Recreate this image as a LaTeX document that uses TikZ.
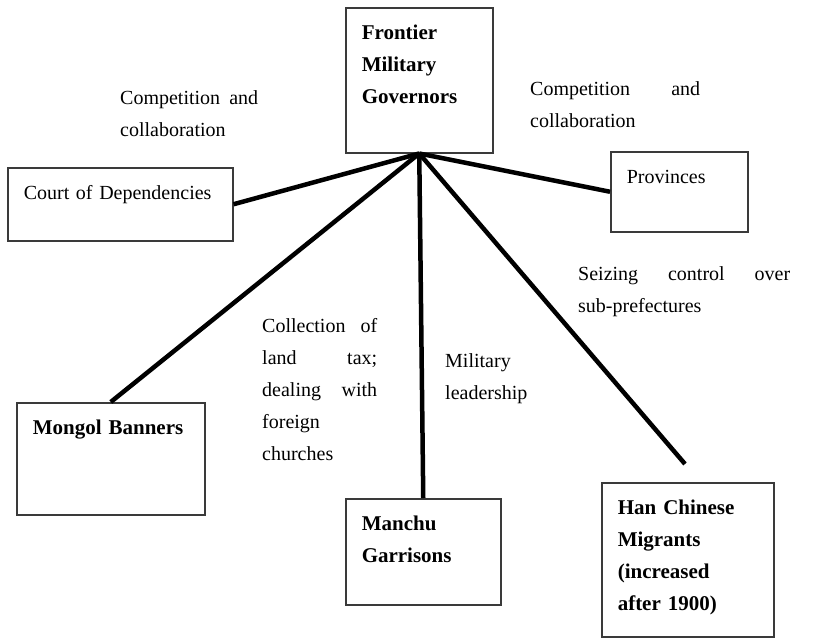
\documentclass[tikz,border=0pt]{standalone}
\usepackage{fontspec}
\setmainfont{Liberation Serif}
\usepackage{xcolor}
\definecolor{boxGray}{HTML}{3A3A3A}
\usetikzlibrary{positioning}

\begin{document}
\begin{tikzpicture}[x=1pt, y=-1pt,
    font=\fontsize{20}{32}\selectfont,
    unit/.style={draw=boxGray, line width=1.5pt, anchor=north west, align=left,
                 inner xsep=16pt, inner ysep=16pt, text height=16pt},
    unitbold/.style={unit, font=\fontsize{21}{32}\selectfont\bfseries},
    note/.style={anchor=base west, inner sep=0pt, align=left},
    link/.style={line width=4.5pt}]
  \useasboundingbox (0,0) rectangle (827,637);
  % actors
  \node[unitbold, text width=115pt, text depth=97pt] (fmg) at (345,7) {Frontier\\Military\\Governors};
  \node[unit, text width=193pt, text depth=25pt] (cod) at (7,167) {Court of Dependencies};
  \node[unit, text width=105pt, text depth=32pt] (prov) at (610,151) {Provinces};
  \node[unitbold, text width=156pt, text depth=64pt] (mongol) at (16,402) {Mongol Banners};
  \node[unitbold, text width=123pt, text depth=58pt] (manchu) at (345,498) {Manchu\\Garrisons};
  \node[unitbold, text width=140pt, text depth=106pt] (han) at (601,482) {Han Chinese\\Migrants\\(increased\\after 1900)};
  \coordinate (hanEnd) at (685,464);
  % links
  \draw[link] (fmg.south) -- (cod.east);
  \draw[link] (fmg.south) -- (prov.west);
  \draw[link] (fmg.south) -- (mongol.north);
  \draw[link] (fmg.south) -- (manchu.north);
  \draw[link] (fmg.south) -- (hanEnd);
  % labels
  \node[note, text width=138pt] (compL) at (120,104) {Competition\hfill and\\collaboration};
  \node[note, text width=170pt] (compR) at (530,95) {Competition\hfill and\\collaboration};
  \node[note, text width=212pt] (seize) at (578,280) {Seizing\hfill control\hfill over\\sub-prefectures};
  \node[note, text width=115pt] (tax) at (262,332) {Collection\hfill of\\land\hfill tax;\\dealing\hfill with\\foreign\\churches};
  \node[note, text width=100pt] (mil) at (445,367) {Military\\leadership};
\end{tikzpicture}
\end{document}
